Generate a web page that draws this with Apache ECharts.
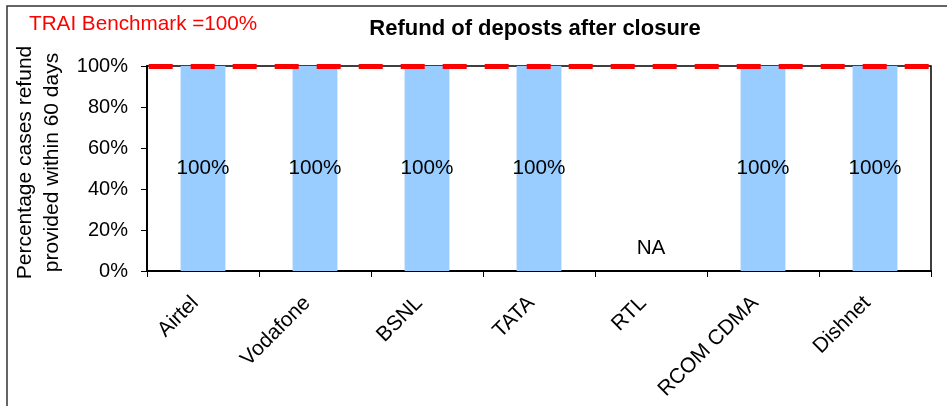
<!DOCTYPE html>
<html>
<head>
<meta charset="utf-8">
<script src="https://cdn.jsdelivr.net/npm/echarts@6/dist/echarts.min.js"></script>
<style>
  html, body { margin: 0; padding: 0; background: #fff; }
  #chart { width: 947px; height: 406px; }
</style>
</head>
<body>
<div id="chart"></div>
<script>
// operators on the x axis
var categories = ['Airtel', 'Vodafone', 'BSNL', 'TATA', 'RTL', 'RCOM CDMA', 'Dishnet'];
// % of cases refunded within 60 days (null = not available)
var refundPct = [100, 100, 100, 100, null, 100, 100];
var benchmark = 100;
var yTicks = [0, 20, 40, 60, 80, 100];

var FONT = '"Liberation Sans", Arial, sans-serif';

var barData = refundPct.map(function (v) {
    if (v === null) {
        // NA bar: draw nothing, just the label above the axis
        return {
            value: 0,
            label: { show: true, position: 'top', distance: 12, formatter: 'NA' }
        };
    }
    return v;
});

var myChart = echarts.init(document.getElementById('chart'), null, { renderer: 'canvas' });
var option = {
    animation: false,
    backgroundColor: '#fff',
    textStyle: { fontFamily: FONT },
    title: [
        {
            text: 'TRAI Benchmark =' + benchmark + '%',
            left: 24, top: 9,
            textStyle: { color: '#ff0000', fontSize: 20.7, fontWeight: 'normal', fontFamily: FONT }
        },
        {
            text: 'Refund of deposts after closure',
            left: 530, top: 13, textAlign: 'center',
            textStyle: { color: '#000', fontSize: 22, fontWeight: 'bold', fontFamily: FONT }
        }
    ],
    graphic: [
        {
            type: 'rect',
            shape: { x: 7, y: 6, width: 980, height: 440 },
            style: { fill: 'none', stroke: '#333', lineWidth: 1.5 },
            silent: true
        }
    ],
    grid: {
        left: 147, right: 16, top: 66, bottom: 135,
        show: true, borderColor: '#000', borderWidth: 1.5, backgroundColor: 'transparent'
    },
    xAxis: {
        type: 'category',
        data: categories,
        axisLine: { lineStyle: { color: '#000', width: 2 } },
        axisTick: { show: true, length: 6, lineStyle: { color: '#000' } },
        axisLabel: {
            rotate: 45, margin: 21, fontSize: 21, color: '#000', fontFamily: FONT,
            padding: [0, 11, 0, 0]
        }
    },
    yAxis: {
        type: 'value',
        min: yTicks[0], max: yTicks[yTicks.length - 1], interval: 20,
        name: 'Percentage cases refund\nprovided within 60 days',
        nameLocation: 'middle',
        nameGap: 71,
        nameTextStyle: {
            fontSize: 21, color: '#000', lineHeight: 27, fontFamily: FONT,
            padding: [0, 0, 0, 12]
        },
        axisLine: { show: true, lineStyle: { color: '#000', width: 2 } },
        axisTick: { show: true, length: 6, lineStyle: { color: '#000' } },
        axisLabel: { formatter: '{value}%', fontSize: 20, color: '#000', margin: 19, fontFamily: FONT },
        splitLine: { show: false }
    },
    series: [
        {
            type: 'bar',
            data: barData,
            barWidth: '40%',
            itemStyle: { color: '#99ccff' },
            label: {
                show: true, position: 'inside', formatter: '{c}%',
                fontSize: 20.7, color: '#000', fontFamily: FONT
            },
            markLine: {
                silent: true,
                symbol: 'none',
                label: { show: false },
                lineStyle: { color: '#ff0000', width: 5, type: [24, 18], dashOffset: 40.3 },
                data: [{ yAxis: benchmark }]
            },
            z: 2
        }
    ]
};
myChart.setOption(option);
</script>
</body>
</html>
